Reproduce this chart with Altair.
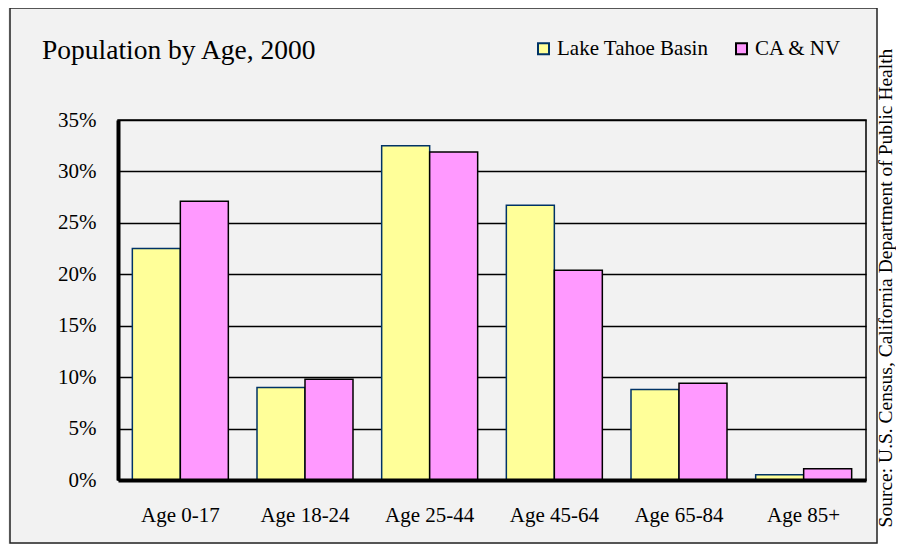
import altair as alt
import pandas as pd

categories = ["Age 0-17", "Age 18-24", "Age 25-44", "Age 45-64", "Age 65-84", "Age 85+"]
series = ["Lake Tahoe Basin", "CA & NV"]
tahoe = [22.5, 9.0, 32.5, 26.7, 8.8, 0.5]
ca_nv = [27.1, 9.8, 31.9, 20.4, 9.4, 1.1]
y_ticks = [0, 0.05, 0.10, 0.15, 0.20, 0.25, 0.30, 0.35]
fill_colors = ["#FFFF99", "#FF99FF"]
stroke_colors = ["#003366", "#000000"]
title_text = "Population by Age, 2000"
source_text = "Source: U.S. Census, California Department of Public Health"

rows = []
for c, a, b in zip(categories, tahoe, ca_nv):
    rows.append({"age": c, "series": series[0], "pct": a / 100})
    rows.append({"age": c, "series": series[1], "pct": b / 100})
df = pd.DataFrame(rows)

FONT = "Liberation Serif"

legend = alt.Legend(
    title=None, orient="none", legendX=415, legendY=-82, direction="horizontal",
    symbolType="square", symbolSize=121, symbolStrokeWidth=2, symbolOpacity=1,
    labelFont=FONT, labelFontSize=21, labelColor="black", labelOffset=3,
    columnPadding=22, labelLimit=300,
)

# white strip at right (outside the grey panel) and panel frame
strip = alt.Chart(alt.Data(values=[{}])).mark_rect(fill="white").encode(
    x=alt.value(759), x2=alt.value(800), y=alt.value(-130), y2=alt.value(440))
frame = alt.Chart(alt.Data(values=[{}])).mark_rect(
    fill=None, stroke="#222222", strokeWidth=1.5
).encode(x=alt.value(-108), x2=alt.value(759), y=alt.value(-112), y2=alt.value(423))

bars = alt.Chart(df).mark_bar(strokeWidth=1.5, opacity=1).encode(
    x=alt.X("age:N", sort=categories,
            scale=alt.Scale(paddingInner=0.23, paddingOuter=0.115),
            axis=alt.Axis(title=None, labelAngle=0, ticks=False, domainWidth=4,
                          domainColor="black", labelPadding=24, labelFont=FONT,
                          labelFontSize=21, labelColor="black", zindex=1)),
    xOffset=alt.XOffset("series:N", sort=series,
                        scale=alt.Scale(paddingInner=0, paddingOuter=0)),
    y=alt.Y("pct:Q", scale=alt.Scale(domain=[0, 0.35], nice=False),
            axis=alt.Axis(title=None, format=".0%", values=y_ticks, ticks=False,
                          domainWidth=4, domainColor="black", grid=True,
                          gridColor="black", gridWidth=1.6, labelPadding=22,
                          labelFont=FONT, labelFontSize=21, labelColor="black")),
    fill=alt.Fill("series:N", sort=series,
                  scale=alt.Scale(domain=series, range=fill_colors), legend=legend),
    stroke=alt.Stroke("series:N", sort=series,
                      scale=alt.Scale(domain=series, range=stroke_colors), legend=legend),
)

title = alt.Chart(alt.Data(values=[{"t": title_text}])).mark_text(
    font=FONT, fontSize=27.5, align="left", baseline="alphabetic", color="black"
).encode(x=alt.value(-76), y=alt.value(-61), text="t:N")

source = alt.Chart(alt.Data(values=[{"t": source_text}])).mark_text(
    font=FONT, fontSize=19.5, align="center", baseline="middle", angle=270, color="black"
).encode(x=alt.value(768), y=alt.value(168), text="t:N")

chart = alt.layer(strip, frame, bars, title, source).properties(
    width=748, height=360,
    autosize=alt.AutoSizeParams(type="none"),
    padding={"left": 110, "top": 112, "right": 30, "bottom": 64},
    background="#F2F2F2",
).configure_view(stroke="black", strokeWidth=1.5)

chart.save("out.html", embed_options={"renderer": "svg", "actions": False})
